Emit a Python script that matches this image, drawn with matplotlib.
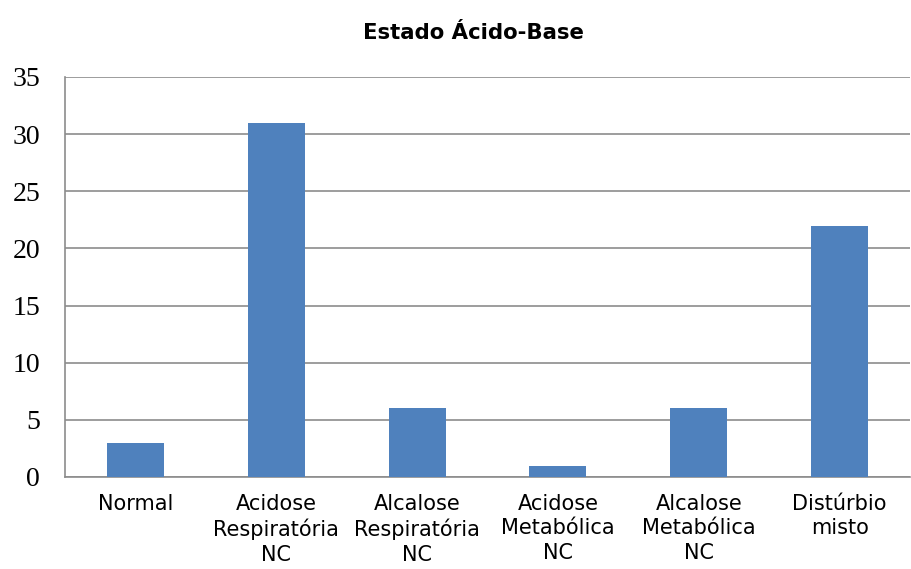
import matplotlib
matplotlib.use("Agg")
import matplotlib.pyplot as plt

# acid-base status counts
categories = ["Normal", "Acidose\nRespiratória\nNC", "Alcalose\nRespiratória\nNC",
              "Acidose\nMetabólica\nNC", "Alcalose\nMetabólica\nNC", "Distúrbio\nmisto"]
counts = [3, 31, 6, 1, 6, 22]
yticks = [0, 5, 10, 15, 20, 25, 30, 35]

fig = plt.figure(figsize=(9.12, 5.69), dpi=100)
ax = fig.add_axes([0.0713, 0.1617, 0.9265, 0.703])

x = range(len(categories))
ax.bar(x, counts, width=0.405, color="#4F81BD", zorder=3)

ax.set_xlim(-0.5, len(categories) - 0.5)
ax.set_ylim(0, 35)
ax.set_yticks(yticks)
ax.yaxis.grid(True, color="#8c8c8c", lw=1.2, zorder=0)

for side in ["top", "right"]:
    ax.spines[side].set_visible(False)
for side in ["left", "bottom"]:
    ax.spines[side].set_color("#8c8c8c")
    ax.spines[side].set_linewidth(1.2)

ax.tick_params(axis="both", length=0)
ax.set_yticklabels([str(v) for v in yticks], fontsize=20, family="Liberation Serif")
ax.tick_params(axis="y", pad=18)
ax.set_xticks(list(x))
ax.set_xticklabels(categories, fontsize=15, linespacing=1.28, family="DejaVu Sans")
ax.tick_params(axis="x", pad=12)

fig.text(0.519, 0.942, "Estado Ácido-Base", ha="center", va="center",
         fontsize=15.3, fontweight="bold", family="DejaVu Sans")

fig.savefig("out.png", dpi=100)
